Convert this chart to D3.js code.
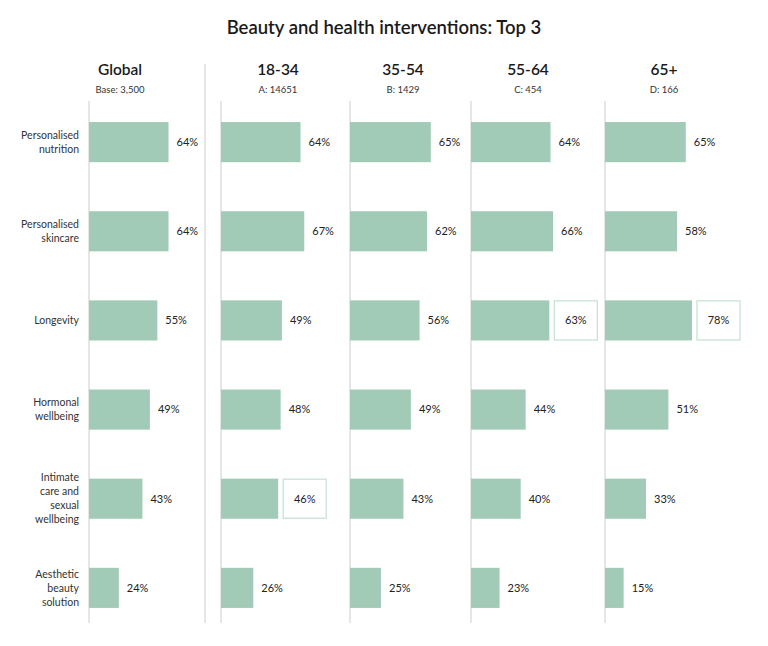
<!DOCTYPE html>
<html><head><meta charset="utf-8">
<script src="https://cdn.jsdelivr.net/npm/d3@7"></script>
<style>body{margin:0;background:#fff;} text{font-family:Lato,"Open Sans",sans-serif;}</style>
</head><body><svg id="c" width="768" height="646"></svg>
<script>
const categories = [["Personalised","nutrition"],["Personalised","skincare"],["Longevity"],["Hormonal","wellbeing"],["Intimate","care and","sexual","wellbeing"],["Aesthetic","beauty","solution"]];
const groups = ["Global","18-34","35-54","55-64","65+"];
const bases = ["Base: 3,500","A: 14651","B: 1429","C: 454","D: 166"];
const globalVals = [64,64,55,49,43,24];
const age1834 = [64,67,49,48,46,26];
const age3554 = [65,62,56,49,43,25];
const age5564 = [64,66,63,44,40,23];
const age65 = [65,58,78,51,33,15];
const series = [globalVals, age1834, age3554, age5564, age65];
const highlights = [[],[4],[],[2],[2]];

const svg = d3.select("#c");
const panelX = [89,221,350,471,605];
const headerX = [120,278,403,528,664];
const barColor = "#a2cbb7";
const x = d3.scaleLinear().domain([0,70]).range([0,87]).clamp(true);
const y = d3.scaleBand().domain(d3.range(categories.length)).range([98,632]).paddingInner(0.55).paddingOuter(0.27);

svg.append("text").attr("x",384).attr("y",34).attr("text-anchor","middle")
  .attr("font-size",18.5).attr("font-weight",600).attr("fill","#1a1a1a")
  .text("Beauty and health interventions: Top 3");

svg.append("line").attr("x1",205).attr("x2",205).attr("y1",64).attr("y2",623).attr("stroke","#cccccc");

groups.forEach((g,i)=>{
  svg.append("text").attr("x",headerX[i]).attr("y",75).attr("text-anchor","middle")
    .attr("font-size",15.5).attr("font-weight",600).attr("fill","#1a1a1a").text(g);
  svg.append("text").attr("x",headerX[i]).attr("y",93).attr("text-anchor","middle")
    .attr("font-size",9.5).attr("fill","#333").text(bases[i]);
  const p = svg.append("g").attr("transform",`translate(${panelX[i]},0)`);
  p.append("line").attr("x1",0).attr("x2",0).attr("y1",101).attr("y2",623).attr("stroke","#cccccc");
  series[i].forEach((v,j)=>{
    const bw = x(v);
    const yy = y(j), h = y.bandwidth();
    p.append("rect").attr("x",0).attr("y",yy).attr("width",bw).attr("height",h).attr("fill",barColor);
    if (highlights[i].includes(j)) {
      p.append("rect").attr("x",bw+5).attr("y",yy+0.5).attr("width",43).attr("height",h-1)
        .attr("fill","#fff").attr("stroke","#c4e0d3").attr("stroke-width",1.2);
      p.append("text").attr("x",bw+5+21.5).attr("y",yy+h/2).attr("dy","0.35em").attr("text-anchor","middle")
        .attr("font-size",11).attr("fill","#222").text(v+"%");
    } else {
      p.append("text").attr("x",bw+8).attr("y",yy+h/2).attr("dy","0.35em")
        .attr("font-size",11).attr("fill","#222").text(v+"%");
    }
  });
});

categories.forEach((lines,j)=>{
  const cy = y(j)+y.bandwidth()/2;
  const lh = 14;
  const t = svg.append("text").attr("text-anchor","end").attr("font-size",10.5).attr("fill","#333");
  lines.forEach((l,k)=>{
    t.append("tspan").attr("x",79).attr("y",cy + (k-(lines.length-1)/2)*lh).attr("dy","0.35em").text(l);
  });
});
</script></body></html>
